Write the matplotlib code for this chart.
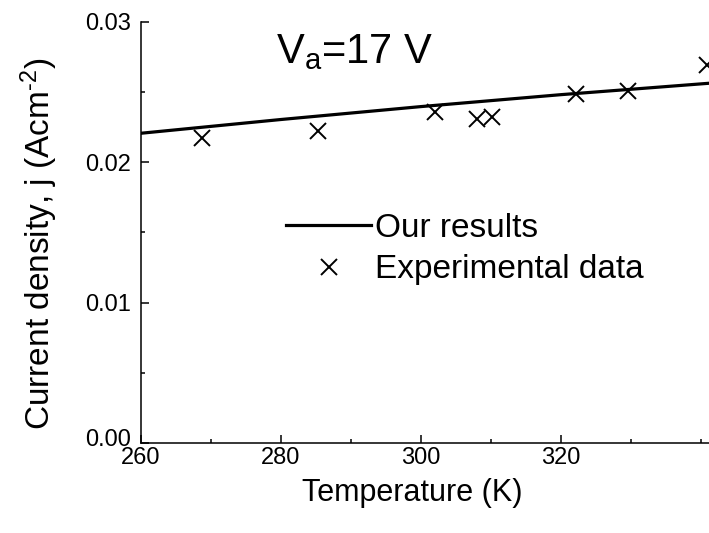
import numpy as np
import matplotlib
matplotlib.use("Agg")
import matplotlib.pyplot as plt
import matplotlib.transforms as mtransforms
from matplotlib.ticker import MultipleLocator

plt.rcParams['font.family'] = ['Liberation Sans', 'DejaVu Sans']
plt.rcParams['mathtext.fontset'] = 'custom'
plt.rcParams['mathtext.rm'] = 'Liberation Sans'
plt.rcParams['mathtext.it'] = 'Liberation Sans'

# model curve
T_model = [260, 280, 300, 320, 345]
j_model = [0.02207, 0.02305, 0.02397, 0.02482, 0.02578]

# measured points
T_exp = [268.7, 285.3, 302.0, 308.0, 310.2, 322.1, 329.5, 340.9]
j_exp = [0.02172, 0.02226, 0.02361, 0.02307, 0.02326, 0.02488, 0.02511, 0.02694]

fig = plt.figure(figsize=(7.09, 5.33), dpi=100)
ax = fig.add_axes([0.1989, 0.1689, 0.8392, 0.7899])

ax.plot(T_model, j_model, color='black', lw=2.3, label='Our results')
ax.plot(T_exp, j_exp, ls='none', marker='x', ms=12, mew=1.4, color='black',
        label='Experimental data', clip_on=False)

ax.set_xlim(260, 345)
ax.set_ylim(0, 0.03)
ax.xaxis.set_minor_locator(MultipleLocator(10))
ax.yaxis.set_minor_locator(MultipleLocator(0.005))
ax.set_yticks([0, 0.01, 0.02, 0.03])
ax.set_yticklabels(['0.00', '0.01', '0.02', '0.03'])
ax.set_xticks([260, 280, 300, 320])

for s in ['top', 'right']:
    ax.spines[s].set_visible(False)
for s in ['left', 'bottom']:
    ax.spines[s].set_linewidth(1.1)

ax.tick_params(which='major', direction='in', length=6, width=1.1, labelsize=17)
ax.tick_params(axis='x', which='major', pad=3)
ax.tick_params(axis='y', which='major', pad=7)
ax.tick_params(which='minor', direction='in', length=3, width=1.1)

# lift the 0.00 label a little so it clears the 260 label
lab0 = ax.get_yticklabels()[0]
lab0.set_transform(lab0.get_transform() +
                   mtransforms.ScaledTranslation(0, 4 / 72, fig.dpi_scale_trans))

ax.set_xlabel('Temperature (K)', fontsize=22)
ax.xaxis.set_label_coords(0.4555, -0.083)
ax.set_ylabel(r'Current density, j (Acm$^{\text{-2}}$)', fontsize=24)
ax.yaxis.set_label_coords(-0.137, 0.4727)

fig.text(276 / 709, 1 - 63 / 533, r'V$_{\mathregular{a}}$=17 V', fontsize=30,
         ha='left', va='baseline')

ax.legend(loc='center left', bbox_to_anchor=(286 / 709, 1 - 249 / 533),
          bbox_transform=fig.transFigure, frameon=False, fontsize=24,
          handlelength=2.55, handletextpad=0.12, labelspacing=0.32,
          borderpad=0, borderaxespad=0)

fig.savefig('out.png', dpi=100)
